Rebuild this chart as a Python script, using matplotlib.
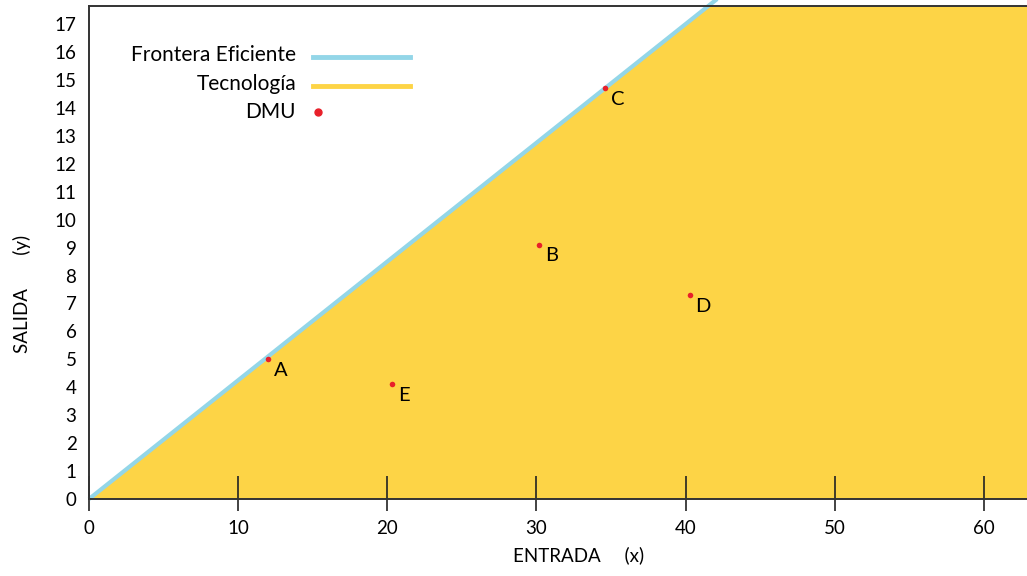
"""Frontera eficiente (DEA, rendimientos constantes) con DMUs."""
import matplotlib
matplotlib.use("Agg")
import matplotlib.pyplot as plt
from matplotlib.lines import Line2D

# datos
frontera_x = [0, 70]
frontera_y = [0, 29.75]
dmu_nombres = ['A', 'B', 'C', 'D', 'E']
dmu_x = [12.0, 30.2, 34.6, 40.3, 20.3]
dmu_y = [5.0, 9.1, 14.7, 7.3, 4.1]
x_ticks = [0, 10, 20, 30, 40, 50, 60]
y_ticks = list(range(0, 18))

AMARILLO = '#FDD446'
AZUL = '#93D6E8'
ROJO = '#E8202A'

plt.rcParams['font.family'] = ['Lato', 'DejaVu Sans']
plt.rcParams['font.size'] = 13.5

fig = plt.figure(figsize=(10.27, 5.76), dpi=100)
ax = fig.add_axes([89 / 1027, 77 / 576, 1 - 89 / 1027, 493 / 576])

ax.fill_between(frontera_x, 0, frontera_y, color=AMARILLO, lw=0, zorder=1)
ax.plot(frontera_x, frontera_y, color=AZUL, lw=3, zorder=2,
        solid_capstyle='butt', clip_on=False)
ax.scatter(dmu_x, dmu_y, s=16, color=ROJO, zorder=4, linewidths=0)
for n, x, y in zip(dmu_nombres, dmu_x, dmu_y):
    ax.annotate(n, (x, y), xytext=(9, -8), textcoords='offset points',
                ha='center', va='center', fontsize=14.5, zorder=5)

ax.set_xlim(0, 62.9)
ax.set_ylim(0, 17.65)

ax.spines['right'].set_visible(False)
for s in ('left', 'top', 'bottom'):
    ax.spines[s].set_color('#333333')
    ax.spines[s].set_linewidth(1.4)
ax.spines['bottom'].set_zorder(6)

ax.set_xticks(x_ticks)
ax.set_xticks(x_ticks, minor=True)
ax.xaxis.remove_overlapping_locs = False
ax.tick_params(axis='x', which='major', direction='in', length=16.5,
               width=1.2, color='#222222', pad=15)
ax.tick_params(axis='x', which='minor', direction='out', length=8.5,
               width=1.2, color='#222222')
ax.xaxis.set_tick_params(which='minor', labelbottom=False)
ax.set_yticks(y_ticks)
ax.tick_params(axis='y', length=0, pad=9)
for t in ax.get_xticklines() + ax.get_xticklines(minor=True):
    t.set_zorder(6)

ax.set_xlabel('ENTRADA     (x)', fontsize=13.5)
ax.xaxis.set_label_coords(0.522, -0.096)
ax.set_ylabel('SALIDA       (y)', fontsize=13.5)
ax.yaxis.set_label_coords(-0.062, 0.416)

# leyenda manual: texto a la derecha, muestra despues
filas = [('Frontera Eficiente', 'line', AZUL),
         ('Tecnología', 'line', AMARILLO),
         ('DMU', 'dot', ROJO)]
for i, (txt, tipo, col) in enumerate(filas):
    yy = 0.900 - i * 0.0575
    ax.text(0.2207, yy, txt, transform=ax.transAxes, ha='right',
            va='center', fontsize=15)
    if tipo == 'line':
        ax.add_line(Line2D([0.2388, 0.342], [yy - 0.004, yy - 0.004],
                           transform=ax.transAxes, color=col, lw=3.5))
    else:
        ax.add_line(Line2D([0.244], [yy], transform=ax.transAxes,
                           marker='o', ms=5, color=col, lw=0))

fig.savefig('out.png', dpi=100)
